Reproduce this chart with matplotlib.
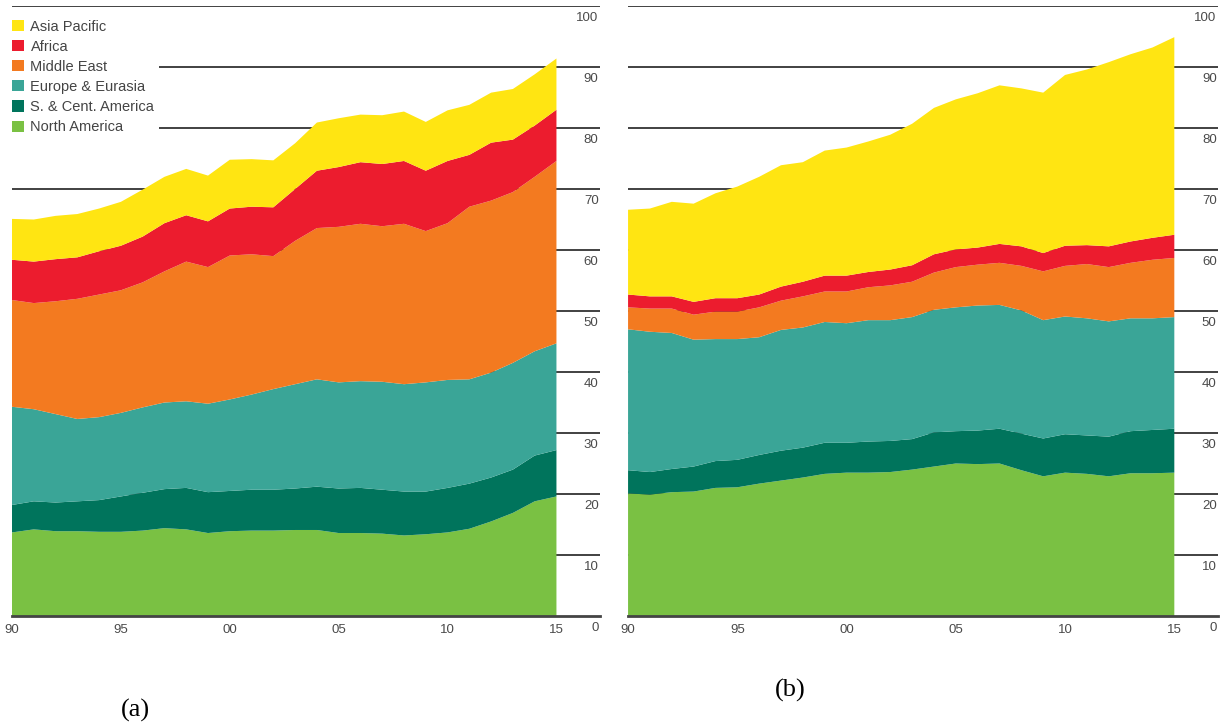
import numpy as np
import matplotlib.pyplot as plt

years = list(range(1990, 2016))
regions = ["North America", "S. & Cent. America", "Europe & Eurasia",
           "Middle East", "Africa", "Asia Pacific"]
colors = ["#7AC143", "#00745C", "#3AA597", "#F37A20", "#EC1C2E", "#FFE512"]

# (a) per-region values
a_north_america = [13.7, 14.2, 13.9, 13.9, 13.8, 13.8, 14.0, 14.4, 14.2, 13.6, 13.9, 14.0, 14.0,
                   14.1, 14.1, 13.6, 13.6, 13.5, 13.2, 13.4, 13.7, 14.3, 15.5, 16.9, 18.8, 19.6]
a_s_cent_america = [4.5, 4.6, 4.7, 4.9, 5.2, 5.8, 6.2, 6.4, 6.8, 6.7, 6.6, 6.7, 6.7,
                    6.8, 7.1, 7.3, 7.4, 7.2, 7.2, 7.0, 7.3, 7.4, 7.2, 7.1, 7.5, 7.6]
a_europe = [16.1, 15.1, 14.5, 13.5, 13.6, 13.7, 14.0, 14.2, 14.2, 14.5, 15.0, 15.6, 16.5,
            17.1, 17.6, 17.4, 17.5, 17.7, 17.6, 17.9, 17.7, 17.1, 17.2, 17.5, 17.1, 17.5]
a_middle_east = [17.5, 17.4, 18.5, 19.7, 20.1, 20.1, 20.5, 21.5, 22.9, 22.4, 23.6, 23.0, 21.8,
                 23.5, 24.8, 25.5, 25.8, 25.5, 26.3, 24.8, 25.7, 28.3, 28.2, 28.0, 28.6, 29.9]
a_africa = [6.6, 6.8, 6.9, 6.8, 7.1, 7.3, 7.5, 7.9, 7.6, 7.5, 7.7, 7.8, 8.0,
            8.5, 9.4, 9.8, 10.1, 10.2, 10.3, 9.9, 10.2, 8.5, 9.5, 8.6, 8.4, 8.4]
a_asia_pacific = [6.7, 6.9, 7.1, 7.1, 7.0, 7.2, 7.7, 7.6, 7.6, 7.5, 8.0, 7.8, 7.7,
                  7.5, 7.9, 8.0, 7.8, 8.0, 8.1, 8.0, 8.3, 8.2, 8.2, 8.3, 8.4, 8.4]

# (b) per-region values
b_north_america = [20.1, 19.9, 20.3, 20.4, 21.0, 21.1, 21.7, 22.2, 22.7, 23.3, 23.5, 23.5, 23.6,
                   24.0, 24.5, 25.0, 24.9, 25.0, 23.9, 22.9, 23.5, 23.3, 22.9, 23.4, 23.4, 23.5]
b_s_cent_america = [3.8, 3.7, 3.8, 4.1, 4.4, 4.5, 4.7, 4.9, 4.9, 5.1, 4.9, 5.1, 5.1,
                    5.0, 5.6, 5.3, 5.5, 5.7, 6.0, 6.2, 6.3, 6.3, 6.5, 6.9, 7.1, 7.2]
b_europe = [23.1, 23.0, 22.3, 20.8, 20.0, 19.8, 19.3, 19.8, 19.7, 19.8, 19.6, 19.9, 19.8,
            20.0, 20.1, 20.3, 20.5, 20.3, 20.2, 19.4, 19.3, 19.2, 18.9, 18.5, 18.3, 18.3]
b_middle_east = [3.6, 3.8, 4.0, 4.1, 4.5, 4.5, 4.9, 4.8, 5.1, 5.0, 5.2, 5.4, 5.7,
                 5.8, 6.1, 6.6, 6.7, 6.9, 7.3, 8.0, 8.3, 8.9, 8.9, 9.1, 9.6, 9.7]
b_africa = [2.1, 2.0, 2.0, 2.1, 2.2, 2.2, 2.1, 2.3, 2.4, 2.6, 2.6, 2.5, 2.6,
            2.7, 3.0, 2.9, 2.8, 3.1, 3.2, 3.0, 3.3, 3.1, 3.4, 3.5, 3.6, 3.8]
b_asia_pacific = [13.9, 14.4, 15.5, 16.1, 17.2, 18.3, 19.3, 19.9, 19.6, 20.5, 21.0, 21.4, 22.1,
                  23.2, 24.0, 24.6, 25.3, 26.0, 25.9, 26.3, 28.0, 28.8, 30.2, 30.7, 31.2, 32.4]

xtick_years = [1990, 1995, 2000, 2005, 2010, 2015]
xtick_labels = ["90", "95", "00", "05", "10", "15"]
ytick_values = list(range(0, 101, 10))

plt.rcParams['font.family'] = ['Liberation Sans Narrow', 'Liberation Sans', 'DejaVu Sans']
label_color = "#4a4a4a"


def draw_panel(ax, series):
    for v in ytick_values[1:]:
        ax.axhline(v, color="#333333", lw=1.3, zorder=0)
    ax.stackplot(years, *series, colors=colors, labels=regions, zorder=2, lw=0)
    ax.set_xlim(1990, 2017)
    ax.set_ylim(0, 100)
    for s in ["top", "left", "right"]:
        ax.spines[s].set_visible(False)
    ax.spines["bottom"].set_color("#444444")
    ax.spines["bottom"].set_linewidth(2)
    ax.spines["bottom"].set_zorder(3)
    ax.set_yticks([])
    ax.set_xticks(xtick_years)
    ax.set_xticklabels(xtick_labels)
    ax.tick_params(axis="x", length=0, pad=6, labelsize=9.5, labelcolor=label_color)
    for v in ytick_values:
        ax.annotate(str(v), xy=(1.0, v), xycoords=ax.get_yaxis_transform(),
                    xytext=(-1, -4), textcoords="offset points",
                    ha="right", va="top", fontsize=9.5, color=label_color)


fig = plt.figure(figsize=(12.25, 7.27), dpi=100)
ax1 = fig.add_axes([0.0098, 0.1527, 0.48, 0.839])
ax2 = fig.add_axes([0.5127, 0.1527, 0.4816, 0.839])

draw_panel(ax1, [a_north_america, a_s_cent_america, a_europe,
                 a_middle_east, a_africa, a_asia_pacific])
draw_panel(ax2, [b_north_america, b_s_cent_america, b_europe,
                 b_middle_east, b_africa, b_asia_pacific])

handles, labels = ax1.get_legend_handles_labels()
leg = ax1.legend(handles[::-1], labels[::-1], loc="upper left", bbox_to_anchor=(-0.007, 0.985),
                 frameon=True, framealpha=1, edgecolor="none", facecolor="white",
                 fontsize=10.5, handlelength=0.8, handleheight=0.8, handletextpad=0.45,
                 labelspacing=0.42, borderpad=0.3, borderaxespad=0.0)
leg.set_zorder(5)
for t in leg.get_texts():
    t.set_color("#444444")

fig.text(135 / 1225, 1 - 710 / 727, "(a)", family="Liberation Serif", fontsize=19,
         ha="center", va="center")
fig.text(790 / 1225, 1 - 690 / 727, "(b)", family="Liberation Serif", fontsize=19,
         ha="center", va="center")

fig.savefig("out.png", dpi=100)
